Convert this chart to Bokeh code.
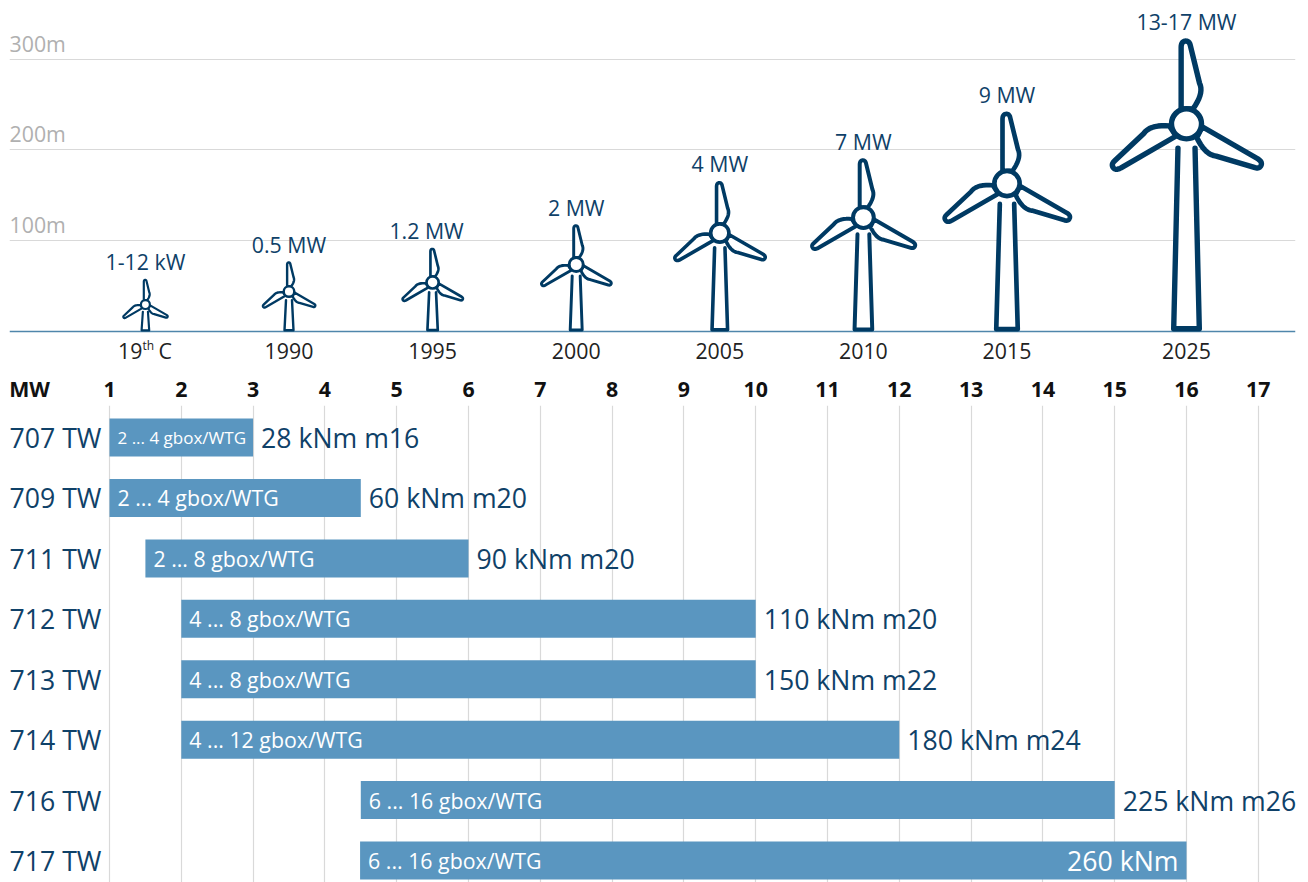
import numpy as np
from bokeh.embed import file_html
from bokeh.layouts import column
from bokeh.models import ColumnDataSource, FixedTicker, Range1d, Span
from bokeh.plotting import figure
from bokeh.resources import INLINE
from bokeh.core.properties import value

# ---- data ----
turbine_mw_pos = [1.5, 3.5, 5.5, 7.5, 9.5, 11.5, 13.5, 16]
turbine_years = ["", "1990", "1995", "2000", "2005", "2010", "2015", "2025"]
turbine_power = ["1-12 kW", "0.5 MW", "1.2 MW", "2 MW", "4 MW", "7 MW", "9 MW", "13-17 MW"]
hub_height_m = [29.7, 44, 54, 73.8, 108.5, 125.5, 163, 228.7]
blade_len_m = [28, 33, 38, 44, 57, 65, 79, 94]
height_ticks = [100, 200, 300]
height_labels = ["100m", "200m", "300m"]

rows = ["707 TW", "709 TW", "711 TW", "712 TW", "713 TW", "714 TW", "716 TW", "717 TW"]
bar_left = [1, 1, 1.5, 2, 2, 2, 4.5, 4.49]
bar_right = [3, 4.5, 6, 10, 10, 12, 15, 16]
gbox = ["2 ... 4 gbox/WTG", "2 ... 4 gbox/WTG", "2 ... 8 gbox/WTG", "4 ... 8 gbox/WTG",
        "4 ... 8 gbox/WTG", "4 ... 12 gbox/WTG", "6 ... 16 gbox/WTG", "6 ... 16 gbox/WTG"]
torque = ["28 kNm m16", "60 kNm m20", "90 kNm m20", "110 kNm m20",
          "150 kNm m22", "180 kNm m24", "225 kNm m26", "260 kNm"]
mw_ticks = list(range(1, 18))

# ---- style ----
NAVY = "#003a63"
TEXT = "#0f4168"
BAR = "#5a96c0"
GRID = "#d9d9d9"
FONT = value("Open Sans")
W = 1308
PX_MW = 71.8
PX_M = 0.908
SMALL = "21.33px"
LARGE = "26.67px"
UP_BLADE = 0.97


def x_at(sx):
    return 1 + (sx - 109) / PX_MW


# ---- turbine outline template, as a fraction of blade length ----
def qbez(p0, c, p1, n=10):
    t = np.linspace(0, 1, n)[:, None]
    p0, c, p1 = map(np.array, (p0, c, p1))
    return (1 - t) ** 2 * p0 + 2 * t * (1 - t) * c + t ** 2 * p1


blade_tpl = np.vstack([
    [[-16, 45], [-16, 235]],
    qbez((-16, 235), (-16, 255), (-2, 255)),
    qbez((-2, 255), (8, 255), (11, 243)),
    qbez((39, 125), (53, 95), (20, 47)),
]) / 255.0


def rot(pts, deg):
    a = np.radians(deg)
    c, s = np.cos(a), np.sin(a)
    return np.column_stack([pts[:, 0] * c - pts[:, 1] * s, pts[:, 0] * s + pts[:, 1] * c])


blade_x, blade_y, blade_w = [], [], []
tw_x, tw_y, tw_w = [], [], []
hub_x, hub_y, hub_size, hub_w = [], [], [], []
tip_y = []
for x0, h, r in zip(turbine_mw_pos, hub_height_m, blade_len_m):
    rpx = r * PX_M
    stroke = 0.8 + 0.054 * rpx
    to_x = lambda a: x0 + np.asarray(a) * rpx / PX_MW
    to_y = lambda a: h + np.asarray(a) * r
    for ang in (0, -120, -240):
        base_tpl = blade_tpl.copy()
        if ang == 0:
            base_tpl[:, 1] *= UP_BLADE
        pts = rot(base_tpl, ang)
        blade_x.append(to_x(pts[:, 0]).tolist())
        blade_y.append(to_y(pts[:, 1]).tolist())
        blade_w.append(stroke)
    base = stroke / 2 / PX_M
    top_y = h - 0.285 * r
    tx = [x0 - 0.10 * rpx / PX_MW, x0 - 0.15 * rpx / PX_MW, x0 + 0.15 * rpx / PX_MW, x0 + 0.10 * rpx / PX_MW]
    ty = [top_y, base, base, top_y]
    tw_x.append(tx); tw_y.append(ty); tw_w.append(stroke)
    hub_x.append(x0); hub_y.append(h)
    hub_size.append(2 * 0.176 * rpx); hub_w.append(stroke)
    tip_y.append(h + UP_BLADE * r + stroke / 2 / PX_M)

# ---- top figure ----
top_l, top_r = 9, 1295
top = figure(width=W, height=370, frame_width=top_r - top_l, frame_height=370, output_backend="svg",
             toolbar_location=None,
             x_range=Range1d(x_at(top_l), x_at(top_r)),
             y_range=Range1d(-(370 - 331) / PX_M, 331 / PX_M),
             min_border_left=top_l, min_border_right=W - top_r, min_border_top=0, min_border_bottom=0,
             outline_line_color=None, background_fill_color="white")
top.xaxis.visible = False
top.yaxis.visible = False
top.xgrid.visible = False
top.ygrid.ticker = FixedTicker(ticks=height_ticks)
top.ygrid.grid_line_color = GRID
top.ygrid.grid_line_width = 1
top.add_layout(Span(location=0, dimension="width", line_color="#4f86ab", line_width=1.5, level="underlay"))

top.text(x=[x_at(9)] * 3, y=height_ticks, text=height_labels, text_font=FONT, text_font_size=SMALL,
         text_color="#b0b0b0", text_align="left", text_baseline="middle", y_offset=-16)

top.patches(tw_x, tw_y, fill_color="white", line_color=None)
top.multi_line("xs", "ys", line_color=NAVY, line_width="w", line_join="round", line_cap="round",
               source=ColumnDataSource(dict(xs=tw_x, ys=tw_y, w=tw_w)))
top.patches("xs", "ys", fill_color="white", line_color=NAVY, line_width="w", line_join="round",
            source=ColumnDataSource(dict(xs=blade_x, ys=blade_y, w=blade_w)))
top.scatter("x", "y", size="s", marker="circle", fill_color="white", line_color=NAVY, line_width="w",
            source=ColumnDataSource(dict(x=hub_x, y=hub_y, s=hub_size, w=hub_w)))

top.text(x="x", y="y", text="t", x_offset="dx", text_font=FONT, text_font_size=SMALL,
         text_color=TEXT, text_align="center", text_baseline="middle", y_offset=-17,
         source=ColumnDataSource(dict(x=turbine_mw_pos, y=tip_y, t=turbine_power,
                                      dx=[0, 0, -6, 0, 0, 0, 0, 0])))
top.text(x=turbine_mw_pos, y=[0] * 8, text=turbine_years, text_font=FONT, text_font_size=SMALL,
         text_color="#222222", text_align="center", text_baseline="middle", y_offset=19)
# "19th C" with a raised ordinal
top.text(x=[1.5], y=[0], text=["19"], text_font=FONT, text_font_size=SMALL, text_color="#222222",
         text_align="right", text_baseline="middle", x_offset=-3, y_offset=19)
top.text(x=[1.5], y=[0], text=["th"], text_font=FONT, text_font_size="12px", text_color="#222222",
         text_align="left", text_baseline="middle", x_offset=-3, y_offset=14)
top.text(x=[1.5], y=[0], text=["C"], text_font=FONT, text_font_size=SMALL, text_color="#222222",
         text_align="left", text_baseline="middle", x_offset=13, y_offset=19)

# ---- bottom figure ----
bot_l, bot_r = 9, 1300
bot = figure(width=W, height=512, frame_width=bot_r - bot_l, frame_height=477, output_backend="svg",
             toolbar_location=None,
             x_axis_location="above",
             x_range=Range1d(x_at(bot_l), x_at(bot_r)),
             y_range=Range1d(7.364, -0.53),
             min_border_left=bot_l, min_border_right=W - bot_r, min_border_top=35, min_border_bottom=0,
             outline_line_color=None, background_fill_color="white")
bot.yaxis.visible = False
bot.ygrid.visible = False
bot.xgrid.ticker = FixedTicker(ticks=mw_ticks)
bot.xgrid.grid_line_color = GRID
bot.xgrid.grid_line_width = 1.2

ax = bot.xaxis[0]
mw_label_pos = 1 + (29 - 109) / PX_MW
ax.ticker = FixedTicker(ticks=[mw_label_pos] + mw_ticks)
ax.major_label_overrides = {mw_label_pos: "MW"}
ax.major_tick_line_color = None
ax.minor_tick_line_color = None
ax.major_tick_out = 0
ax.major_tick_in = 0
ax.minor_tick_out = 0
ax.minor_tick_in = 0
ax.axis_line_color = None
ax.major_label_text_font = "Open Sans"
ax.major_label_text_font_style = "bold"
ax.major_label_text_font_size = SMALL
ax.major_label_text_color = "#111111"
ax.major_label_standoff = 3

y = list(range(len(rows)))
bot.hbar(y=y, left=bar_left, right=bar_right, height=38 / 60.43, fill_color=BAR, line_color=None)
bot.text(x=[x_at(9)] * 8, y=y, text=rows, text_font=FONT, text_font_size=LARGE, text_color=TEXT,
         text_align="left", text_baseline="middle")

# first bar's label is smaller so that it stays inside its bar
bot.text(x=bar_left[:1], y=y[:1], text=gbox[:1], text_font=FONT, text_font_size="17px",
         text_color="#ffffff", text_align="left", text_baseline="middle", x_offset=8)
bot.text(x=bar_left[1:], y=y[1:], text=gbox[1:], text_font=FONT, text_font_size=SMALL,
         text_color="#ffffff", text_align="left", text_baseline="middle", x_offset=8)
bot.text(x=bar_right[:7], y=y[:7], text=torque[:7], text_font=FONT, text_font_size=LARGE, text_color=TEXT,
         text_align="left", text_baseline="middle", x_offset=8)
bot.text(x=bar_right[7:], y=y[7:], text=torque[7:], text_font=FONT, text_font_size=LARGE, text_color="#ffffff",
         text_align="right", text_baseline="middle", x_offset=-8)

page = column(top, bot, spacing=0)
open("out.html", "w").write(file_html(page, INLINE))
